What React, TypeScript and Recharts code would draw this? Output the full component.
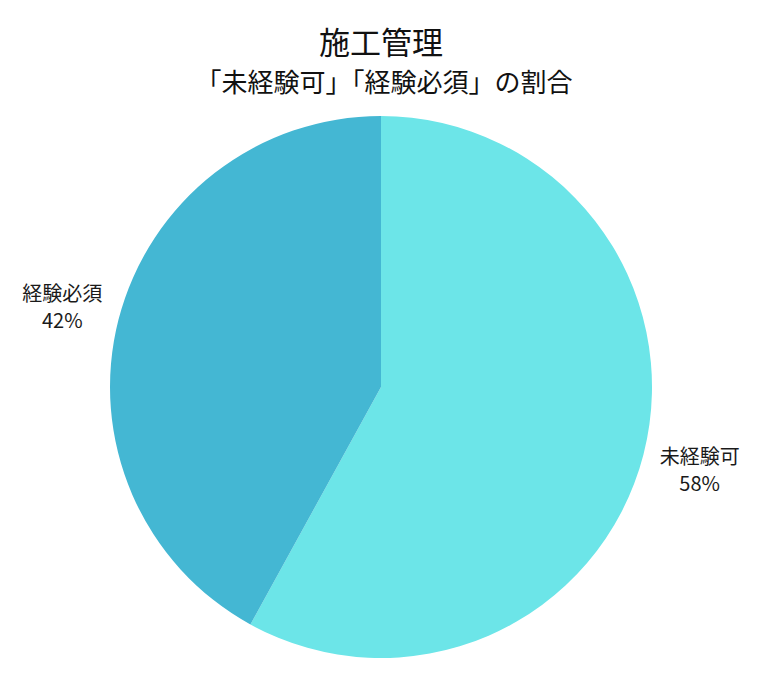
import React from "react";
import { PieChart, Pie, Cell } from "recharts";

const categories = ["未経験可", "経験必須"];
const values = [58, 42];
const colors = ["#6CE5E8", "#44B7D3"];

const data = categories.map((name, i) => ({ name, value: values[i] }));

const FONT = '"Noto Sans CJK JP", "Noto Sans", sans-serif';
const RAD = Math.PI / 180;

const renderLabel = (props: any) => {
  const { cx, cy, midAngle, outerRadius, name, value } = props;
  const r = outerRadius + 58;
  const x = cx + r * Math.cos(-midAngle * RAD);
  const y = cy + r * Math.sin(-midAngle * RAD);
  return (
    <g>
      <text x={x} y={y - 13} textAnchor="middle" dominantBaseline="central" fill="#1a1a1a" fontSize={20} fontFamily={FONT}>
        {name}
      </text>
      <text x={x} y={y + 14} textAnchor="middle" dominantBaseline="central" fill="#1a1a1a" fontSize={20} fontFamily={FONT}>
        {`${value}%`}
      </text>
    </g>
  );
};

export default function App() {
  return (
    <div style={{ position: "absolute", left: 0, top: 0, width: 763, height: 679, background: "#fff" }}>
      <PieChart width={763} height={679} margin={{ top: 0, right: 0, bottom: 0, left: 0 }}>
        <text x={381} y={40} textAnchor="middle" dominantBaseline="central" fontSize={31} fill="#111" fontFamily={FONT}>
          施工管理
        </text>
        <text x={384} y={80} textAnchor="middle" dominantBaseline="central" fontSize={26} fill="#111" fontFamily={FONT}>
          「未経験可」「経験必須」の割合
        </text>
        <Pie
          data={data}
          dataKey="value"
          nameKey="name"
          cx={381}
          cy={387}
          outerRadius={271}
          startAngle={90}
          endAngle={-270}
          stroke="none"
          label={renderLabel}
          labelLine={false}
          isAnimationActive={false}
        >
          {data.map((d, i) => (
            <Cell key={d.name} fill={colors[i]} />
          ))}
        </Pie>
      </PieChart>
    </div>
  );
}
